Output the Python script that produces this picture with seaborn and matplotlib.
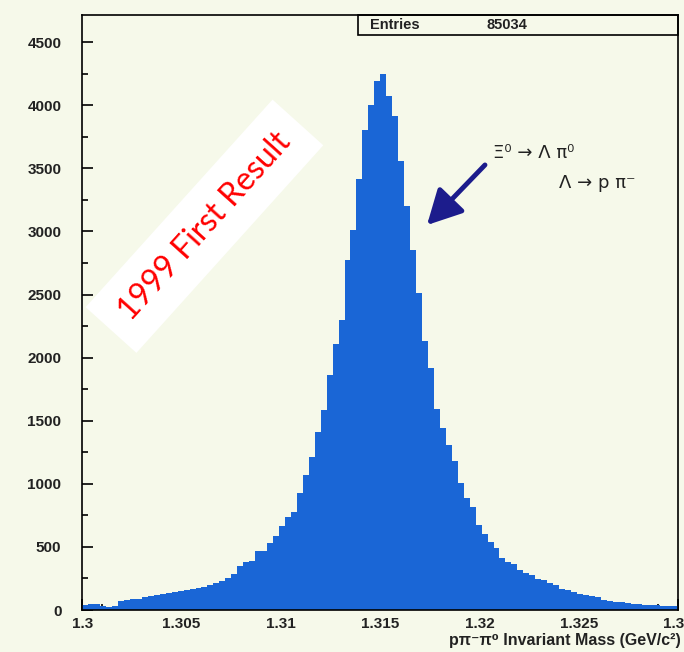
import numpy as np
import pandas as pd
import matplotlib
matplotlib.use("Agg")
import matplotlib.pyplot as plt
from matplotlib.patches import Rectangle
from matplotlib.ticker import MultipleLocator
import seaborn as sns

# histogram: 100 bins from 1.300 to 1.330 GeV/c^2
x_lo = 1.300
x_hi = 1.330
n_bins = 100
counts = [42, 50, 48, 28, 27, 34, 75, 78, 85, 90,
          105, 108, 120, 126, 135, 140, 153, 156, 166, 172,
          185, 198, 213, 230, 250, 285, 350, 380, 390, 465,
          470, 530, 585, 665, 740, 780, 925, 1070, 1215, 1410,
          1585, 1860, 2110, 2295, 2770, 3010, 3415, 3800, 4000, 4195,
          4250, 4075, 3915, 3560, 3205, 2850, 2515, 2135, 1920, 1590,
          1440, 1310, 1180, 1010, 890, 815, 670, 600, 540, 490,
          415, 380, 365, 320, 290, 280, 248, 238, 212, 195,
          166, 155, 145, 128, 115, 110, 100, 83, 74, 66,
          60, 53, 50, 44, 42, 38, 36, 34, 32, 30]
x_ticks = [1.3, 1.305, 1.31, 1.315, 1.32, 1.325, 1.33]
x_ticklabels = ["1.3", "1.305", "1.31", "1.315", "1.32", "1.325", "1.33"]
y_ticks = [0, 500, 1000, 1500, 2000, 2500, 3000, 3500, 4000, 4500]
entries = "85034"

edges = np.linspace(x_lo, x_hi, n_bins + 1)
df = pd.DataFrame({"mass": (edges[:-1] + edges[1:]) / 2, "n": counts})

bg = "#f6f9ea"
blue = "#1a66d6"

sns.set_theme(style="ticks")
plt.rcParams["font.family"] = ["Liberation Sans", "DejaVu Sans"]

fig = plt.figure(figsize=(6.84, 6.52), dpi=100, facecolor=bg)
ax = fig.add_axes([0.1203, 0.0644, 0.8713, 0.9126])
ax.set_facecolor(bg)

sns.histplot(data=df, x="mass", weights="n", bins=n_bins, binrange=(x_lo, x_hi),
             element="step", fill=True, color=blue, alpha=1, linewidth=0, ax=ax)

ax.set_xlim(x_lo, x_hi)
ax.set_ylim(0, 4715)
ax.set_xticks(x_ticks)
ax.set_xticklabels(x_ticklabels)
ax.set_yticks(y_ticks)
ax.xaxis.set_minor_locator(MultipleLocator(0.001))
ax.yaxis.set_minor_locator(MultipleLocator(250))
ax.tick_params(which="both", direction="in", color="black", width=1.2,
               labelsize=11, labelcolor="#222222")
ax.tick_params(which="major", length=8)
ax.tick_params(which="minor", length=4)
ax.tick_params(axis="y", pad=15)
ax.tick_params(axis="x", pad=5)
for lbl in ax.get_xticklabels() + ax.get_yticklabels():
    lbl.set_fontweight("bold")
for sp in ax.spines.values():
    sp.set_visible(True)
    sp.set_color("black")
    sp.set_linewidth(1.2)

ax.set_xlabel("")
ax.set_ylabel("")
fig.text(0.995, 0.018, "p\u03c0\u207b\u03c0\u2070 Invariant Mass (GeV/c\u00b2)",
         ha="right", va="center", fontsize=11.5, fontweight="bold", color="#222222")

# stats box
ax.add_patch(Rectangle((0.4626, 0.966), 0.5374, 0.034, transform=ax.transAxes,
                       fill=False, edgecolor="black", lw=1.2, clip_on=False))
ax.text(0.483, 0.983, "Entries", transform=ax.transAxes, ha="left", va="center",
        fontsize=10.5, fontweight="bold", color="#222222")
ax.text(0.679, 0.983, entries, transform=ax.transAxes, ha="left", va="center",
        fontsize=10.5, fontweight="bold", color="#222222")

# decay annotation with arrow
ax.annotate("", xy=(0.5784, 0.647), xytext=(0.6757, 0.748),
            xycoords="axes fraction", textcoords="axes fraction",
            arrowprops=dict(arrowstyle="-|>,head_length=1.05,head_width=0.55",
                            color="#1c1c8c", lw=3.5, mutation_scale=20,
                            shrinkA=0, shrinkB=0))
ax.text(0.689, 0.768, "\u039e\u2070 \u2192 \u039b \u03c0\u2070", transform=ax.transAxes,
        ha="left", va="center", fontsize=13, color="#222222",
        family=["DejaVu Sans"])
ax.text(0.80, 0.718, "\u039b \u2192 p \u03c0\u207b", transform=ax.transAxes,
        ha="left", va="center", fontsize=13, color="#222222",
        family=["DejaVu Sans"])

# red label on white band
ax.text(0.205, 0.645, "1999 First Result", transform=ax.transAxes,
        rotation=48, rotation_mode="anchor", ha="center", va="center",
        fontsize=23, color="red", family=["Lato", "DejaVu Sans"],
        bbox=dict(boxstyle="square,pad=0.6", facecolor="white", edgecolor="none"))

fig.savefig("out.png", dpi=100, facecolor=bg)
